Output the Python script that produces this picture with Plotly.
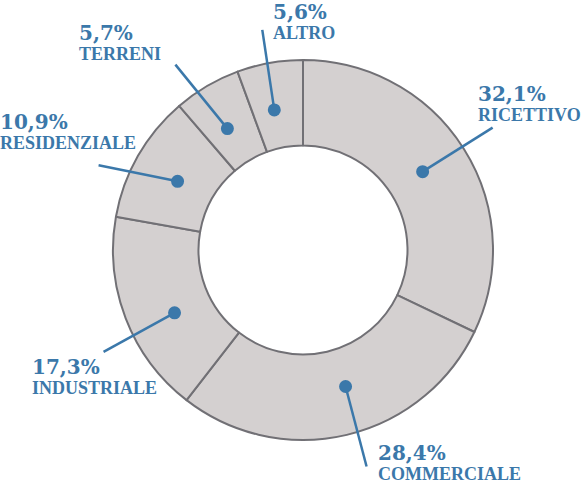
import math
import plotly.graph_objects as go

# Quote per destinazione d'uso (%)
categories = ["RICETTIVO", "COMMERCIALE", "INDUSTRIALE", "RESIDENZIALE", "TERRENI", "ALTRO"]
shares = [32.1, 28.4, 17.3, 10.9, 5.7, 5.6]
pct_labels = [f"{v:.1f}%".replace(".", ",") for v in shares]

# callout styling: angle nudge (deg), line end offset from dot (px), label box top-left (px)
nudge = [-1, -4, -5, -1, -1.5, -1.5]
line_end = [(70, -44), (21, 80), (-71, 39), (-79, -16), (-52, -64), (-12, -80)]
label_pos = [(479, 83), (379, 442), (33, 356), (1, 111), (80, 22), (274, 1)]

W, H = 582, 487
cx, cy, R = 303, 250, 190
dot_r = 143
blue = "#3b78aa"

fig = go.Figure()
fig.add_trace(go.Pie(
    values=shares, labels=categories, sort=False, direction="clockwise", rotation=0,
    hole=0.55, textinfo="none", hoverinfo="label+percent", showlegend=False,
    marker=dict(colors=["#d4d0d0"] * len(shares), line=dict(color="#717075", width=2)),
    domain=dict(x=[(cx - R) / W, (cx + R) / W], y=[1 - (cy + R) / H, 1 - (cy - R) / H]),
))
# invisible trace so the pixel axes exist
fig.add_trace(go.Scatter(x=[0, W], y=[0, H], mode="markers", marker=dict(opacity=0),
                         hoverinfo="skip", showlegend=False))

# callout dots and lines at mid-angle of each slice (shapes sit above the pie)
total = sum(shares)
cum = 0
for i, v in enumerate(shares):
    ang = math.radians((cum + v / 2) / total * 360 + nudge[i])
    cum += v
    dx, dy = cx + dot_r * math.sin(ang), cy - dot_r * math.cos(ang)
    ex, ey = dx + line_end[i][0], dy + line_end[i][1]
    fig.add_shape(type="line", x0=dx, y0=dy, x1=ex, y1=ey, xref="x", yref="y",
                  line=dict(color=blue, width=2.5), layer="above")
    fig.add_shape(type="circle", x0=dx - 6.5, y0=dy - 6.5, x1=dx + 6.5, y1=dy + 6.5,
                  xref="x", yref="y", fillcolor=blue, line=dict(width=0), layer="above")
    lx, ly = label_pos[i]
    fig.add_annotation(x=lx, y=ly, xref="x", yref="y", xanchor="left", yanchor="top",
                       xshift=-3, yshift=3,
                       text=f"<b>{pct_labels[i]}</b>", showarrow=False,
                       font=dict(family="DejaVu Serif", size=20, color=blue))
    fig.add_annotation(x=lx, y=ly + 23, xref="x", yref="y", xanchor="left", yanchor="top",
                       xshift=-3, yshift=3,
                       text=f"<b>{categories[i]}</b>", showarrow=False,
                       font=dict(family="Liberation Serif", size=18, color=blue))

fig.update_layout(
    width=W, height=H, margin=dict(l=0, r=0, t=0, b=0),
    paper_bgcolor="white", plot_bgcolor="rgba(0,0,0,0)",
    xaxis=dict(range=[0, W], visible=False, fixedrange=True),
    yaxis=dict(range=[H, 0], visible=False, fixedrange=True),
)

fig.write_html("out.html", config={"displayModeBar": False},
               post_script="document.body.style.margin='0';document.body.style.overflow='hidden';")
